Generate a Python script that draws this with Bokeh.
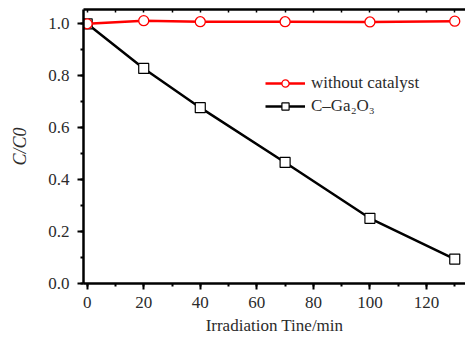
from bokeh.plotting import figure
from bokeh.models import Range1d, LinearAxis, Legend, LegendItem, FixedTicker, PrintfTickFormatter
from bokeh.embed import file_html
from bokeh.resources import INLINE

time_min = [0, 20, 40, 70, 100, 130]
without_catalyst = [1.0, 1.012, 1.008, 1.008, 1.007, 1.01]
c_ga2o3 = [1.0, 0.828, 0.677, 0.466, 0.251, 0.094]
x_ticks = [0, 20, 40, 60, 80, 100, 120]
y_ticks = [0.0, 0.2, 0.4, 0.6, 0.8, 1.0]

FONT = "Liberation Serif"
TXT = "#2b2b2b"

p = figure(width=465, height=339, output_backend="svg", toolbar_location=None,
           x_range=Range1d(-1.3, 133.8), y_range=Range1d(0.0, 1.055),
           min_border_left=83, min_border_right=0, min_border_top=9, min_border_bottom=56)
p.outline_line_color = None
p.grid.visible = False
p.background_fill_color = "white"

for ax in (p.xaxis[0], p.yaxis[0]):
    ax.axis_line_width = 2.5
    ax.axis_line_color = "black"
    ax.major_tick_line_width = 2
    ax.minor_tick_line_width = 2
    ax.major_tick_out = 6
    ax.major_tick_in = 0
    ax.minor_tick_out = 3
    ax.minor_tick_in = 0
    ax.major_label_text_font = FONT
    ax.major_label_text_font_size = "17px"
    ax.major_label_text_color = TXT
    ax.axis_label_text_font = FONT
    ax.axis_label_text_font_style = "normal"
    ax.axis_label_text_color = TXT

p.xaxis[0].ticker = FixedTicker(ticks=x_ticks, minor_ticks=list(range(0, 140, 10)))
p.yaxis[0].ticker = FixedTicker(ticks=y_ticks, minor_ticks=[i / 10 for i in range(11)])
p.yaxis[0].formatter = PrintfTickFormatter(format="%.1f")
p.xaxis[0].major_label_standoff = 7
p.yaxis[0].major_label_standoff = 8
p.xaxis[0].axis_label = "Irradiation Tine/min"
p.xaxis[0].axis_label_text_font_size = "17px"
p.xaxis[0].axis_label_standoff = 5
p.yaxis[0].axis_label = "C/C0"
p.yaxis[0].axis_label_text_font_style = "italic"
p.yaxis[0].axis_label_text_font_size = "18px"
p.yaxis[0].axis_label_standoff = 15

top = LinearAxis(ticker=FixedTicker(ticks=[], minor_ticks=list(range(0, 140, 10))))
top.axis_line_width = 2.5
top.major_tick_in = 0
top.major_tick_out = 0
top.minor_tick_in = 3
top.minor_tick_out = 0
top.minor_tick_line_width = 1.5
p.add_layout(top, "above")

r1l = p.line(time_min, without_catalyst, line_color="red", line_width=2.5)
r1m = p.scatter(time_min, without_catalyst, marker="circle", size=10,
                fill_color="white", line_color="red", line_width=1.3)
r2l = p.line(time_min, c_ga2o3, line_color="black", line_width=2.5)
r2m = p.scatter(time_min, c_ga2o3, marker="square", size=10,
                fill_color="white", line_color="black", line_width=1.2)
p.renderers.remove(r1l)
p.renderers.remove(r1m)
p.renderers.extend([r1l, r1m])

legend = Legend(items=[
    LegendItem(label="without catalyst", renderers=[r1l, r1m]),
    LegendItem(label="C\u2013Ga\u2082O\u2083", renderers=[r2l, r2m]),
], location=(182, 167))
legend.border_line_color = None
legend.background_fill_alpha = 0
legend.label_text_font = FONT
legend.label_text_font_size = "17px"
legend.label_text_color = TXT
legend.glyph_width = 40
legend.glyph_height = 18
legend.label_height = 18
legend.spacing = 3
legend.padding = 4
legend.label_standoff = 6
p.add_layout(legend, "center")

open("out.html", "w").write(file_html(p, INLINE))
